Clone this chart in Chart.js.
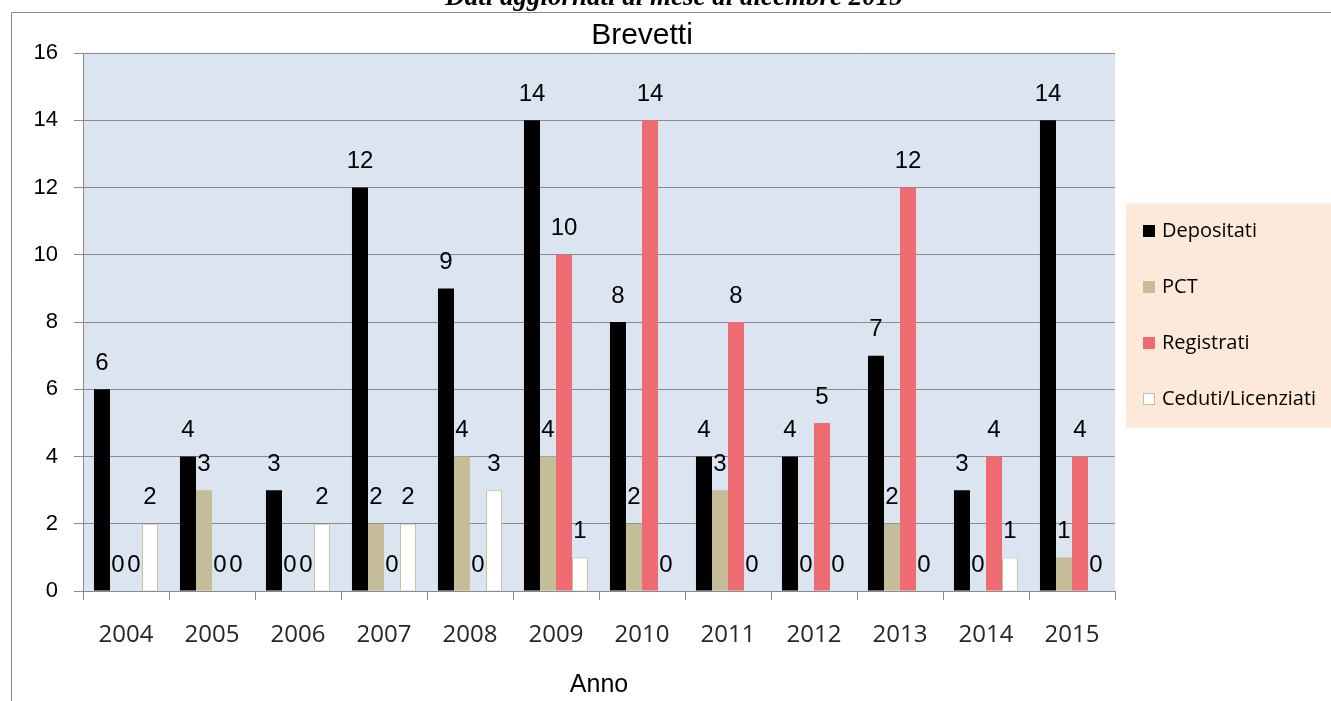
<!DOCTYPE html>
<html>
<head>
<meta charset="utf-8">
<title>Brevetti</title>
<script src="https://cdn.jsdelivr.net/npm/chart.js@4.4.1/dist/chart.umd.min.js"></script>
<style>
    body { margin: 0; background: #fff; }
    #wrap { width: 1331px; height: 701px; }
</style>
</head>
<body>
<div id="wrap"><canvas id="brevettiChart" width="1331" height="701"></canvas></div>
<script>
// --- data ---
const years = ['2004', '2005', '2006', '2007', '2008', '2009', '2010', '2011', '2012', '2013', '2014', '2015'];
const depositati = [6, 4, 3, 12, 9, 14, 8, 4, 4, 7, 3, 14];
const pct = [0, 3, 0, 2, 4, 4, 2, 3, 0, 2, 0, 1];
const registrati = [0, 0, 0, 0, 0, 10, 14, 8, 5, 12, 4, 4];
const ceduti = [2, 0, 2, 2, 3, 1, 0, 0, 0, 0, 1, 0];
const yTicks = [0, 2, 4, 6, 8, 10, 12, 14, 16];

const seriesNames = ['Depositati', 'PCT', 'Registrati', 'Ceduti/Licenziati'];
const fillColors = ['#000000', '#c4bd97', '#ef6b72', '#ffffff'];
const gridGray = '#8a8a8a';

// 1. background, frame, titles, value labels, legend
const decorPlugin = {
    id: 'decor',
    beforeDraw(chart) {
        const ctx = chart.ctx;
        const a = chart.chartArea;
        ctx.save();
        ctx.fillStyle = '#ffffff';
        ctx.fillRect(0, 0, chart.width, chart.height);
        // outer frame (only top and left are visible)
        ctx.strokeStyle = '#8c8c8c';
        ctx.lineWidth = 1;
        ctx.beginPath();
        ctx.moveTo(11.5, chart.height);
        ctx.lineTo(11.5, 12.5);
        ctx.lineTo(chart.width, 12.5);
        ctx.stroke();
        // plot area
        ctx.fillStyle = '#dbe5f1';
        ctx.fillRect(a.left, a.top, a.right - a.left, a.bottom - a.top);
        ctx.restore();
    },
    afterDatasetsDraw(chart) {
        const ctx = chart.ctx;
        ctx.save();
        ctx.fillStyle = '#000';
        ctx.font = '24px "Liberation Sans", Arial, sans-serif';
        ctx.textAlign = 'center';
        ctx.textBaseline = 'middle';
        chart.data.datasets.forEach((ds, i) => {
            chart.getDatasetMeta(i).data.forEach((bar, j) => {
                ctx.fillText(String(ds.data[j]), bar.x, bar.y - 26);
            });
        });
        ctx.restore();
    },
    afterDraw(chart) {
        const ctx = chart.ctx;
        ctx.save();
        // cut-off caption above the frame
        ctx.fillStyle = '#000';
        ctx.textAlign = 'center';
        ctx.textBaseline = 'alphabetic';
        ctx.font = 'bold italic 27px "Liberation Serif", "Times New Roman", serif';
        ctx.fillText('Dati aggiornati al mese di dicembre 2015', 674, 5);
        // chart title
        ctx.font = '30px "Liberation Sans", Arial, sans-serif';
        ctx.fillText('Brevetti', 642, 44);

        // legend
        ctx.fillStyle = '#fde9d9';
        ctx.fillRect(1126, 203, chart.width - 1126, 225);
        ctx.font = '20px "Open Sans", sans-serif';
        ctx.textAlign = 'left';
        ctx.textBaseline = 'middle';
        chart.data.datasets.forEach((ds, i) => {
            const y = 231 + i * 56;
            ctx.fillStyle = ds.backgroundColor;
            ctx.fillRect(1143, y - 6, 12, 12);
            if (ds.borderWidth) {
                ctx.strokeStyle = ds.borderColor;
                ctx.lineWidth = 1;
                ctx.strokeRect(1143.5, y - 5.5, 11, 11);
            }
            ctx.fillStyle = '#000';
            ctx.fillText(ds.label, 1162, y);
        });
        ctx.restore();
    }
};

// 2. chart
const seriesValues = [depositati, pct, registrati, ceduti];
const datasets = seriesNames.map((name, i) => ({
    label: name,
    data: seriesValues[i],
    backgroundColor: fillColors[i],
    borderColor: i === 3 ? '#c8c09a' : fillColors[i],
    borderWidth: i === 3 ? 1 : 0,
    categoryPercentage: 0.745,
    barPercentage: 1.0
}));

new Chart(document.getElementById('brevettiChart'), {
    type: 'bar',
    data: { labels: years, datasets: datasets },
    options: {
        responsive: false,
        animation: false,
        layout: { padding: { top: 53, right: 216, left: 0, bottom: 0 } },
        plugins: {
            legend: { display: false },
            title: { display: false },
            tooltip: { enabled: false }
        },
        scales: {
            x: {
                grid: {
                    offset: true,
                    drawOnChartArea: false,
                    drawTicks: true,
                    tickLength: 9,
                    color: gridGray
                },
                border: { display: true, color: gridGray },
                ticks: {
                    color: '#262626',
                    padding: 21,
                    font: { family: '"Open Sans", sans-serif', size: 24 }
                },
                title: {
                    display: true,
                    text: 'Anno',
                    color: '#000',
                    padding: { top: 0, bottom: 1 },
                    font: { family: '"Liberation Sans", Arial, sans-serif', size: 25 }
                },
                afterFit: s => { s.height = 110; }
            },
            y: {
                min: 0,
                max: 16,
                afterBuildTicks: s => { s.ticks = yTicks.map(v => ({ value: v })); },
                grid: { color: gridGray, tickLength: 9 },
                border: { display: true, color: gridGray },
                ticks: {
                    color: '#000',
                    padding: 16,
                    font: { family: '"Liberation Sans", Arial, sans-serif', size: 22 }
                },
                afterFit: s => { s.width = 83; }
            }
        }
    },
    plugins: [decorPlugin]
});
</script>
</body>
</html>
